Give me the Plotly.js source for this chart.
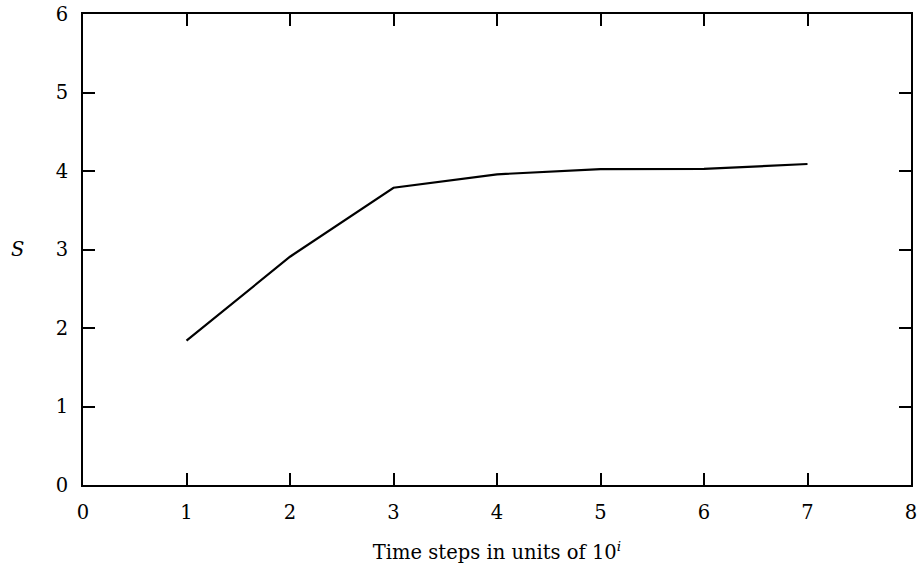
<!DOCTYPE html>
<html>
<head>
<meta charset="utf-8">
<script src="https://cdn.plot.ly/plotly-3.0.1.min.js"></script>
<style>html,body{margin:0;padding:0;background:#fff;}#chart{width:923px;height:565px;}</style>
</head>
<body>
<div id="chart"></div>
<script>
const timeSteps = [1, 2, 3, 4, 5, 6, 7];
const entropyS = [1.838, 2.908, 3.787, 3.958, 4.025, 4.027, 4.089];
const xTickVals = [0, 1, 2, 3, 4, 5, 6, 7, 8];
const yTickVals = [0, 1, 2, 3, 4, 5, 6];

const fontFamily = '"DejaVu Serif", serif';
const fontSize = 19.5;

const trace = {
  x: timeSteps,
  y: entropyS,
  type: 'scatter',
  mode: 'lines',
  line: {color: '#000', width: 2.2},
  hoverinfo: 'skip'
};

const layout = {
  width: 923,
  height: 565,
  margin: {l: 83, r: 12, t: 14, b: 80},
  paper_bgcolor: '#fff',
  plot_bgcolor: '#fff',
  showlegend: false,
  font: {family: fontFamily, size: fontSize, color: '#000'},
  xaxis: {
    range: [0, 8],
    tickvals: xTickVals,
    ticktext: xTickVals.map(String),
    ticks: 'inside',
    ticklen: 12,
    tickwidth: 2,
    tickcolor: '#000',
    showline: true,
    linewidth: 2,
    linecolor: '#000',
    mirror: 'allticks',
    showgrid: false,
    zeroline: false,
    ticklabelstandoff: 9,
    title: {text: 'Time steps in units of 10<sup><i>i</i></sup>', font: {family: fontFamily, size: fontSize}, standoff: 22}
  },
  yaxis: {
    range: [0, 6],
    tickvals: yTickVals,
    ticktext: yTickVals.map(String),
    ticks: 'inside',
    ticklen: 12,
    tickwidth: 2,
    tickcolor: '#000',
    showline: true,
    linewidth: 2,
    linecolor: '#000',
    mirror: 'allticks',
    showgrid: false,
    zeroline: false,
    ticklabelstandoff: 9
  },
  annotations: [{
    text: '<i>S</i>',
    xref: 'paper', yref: 'y',
    x: 0, y: 3,
    xshift: -74,
    showarrow: false,
    font: {family: fontFamily, size: fontSize, color: '#000'}
  }]
};

Plotly.newPlot('chart', [trace], layout, {displayModeBar: false, staticPlot: true});
</script>
</body>
</html>
